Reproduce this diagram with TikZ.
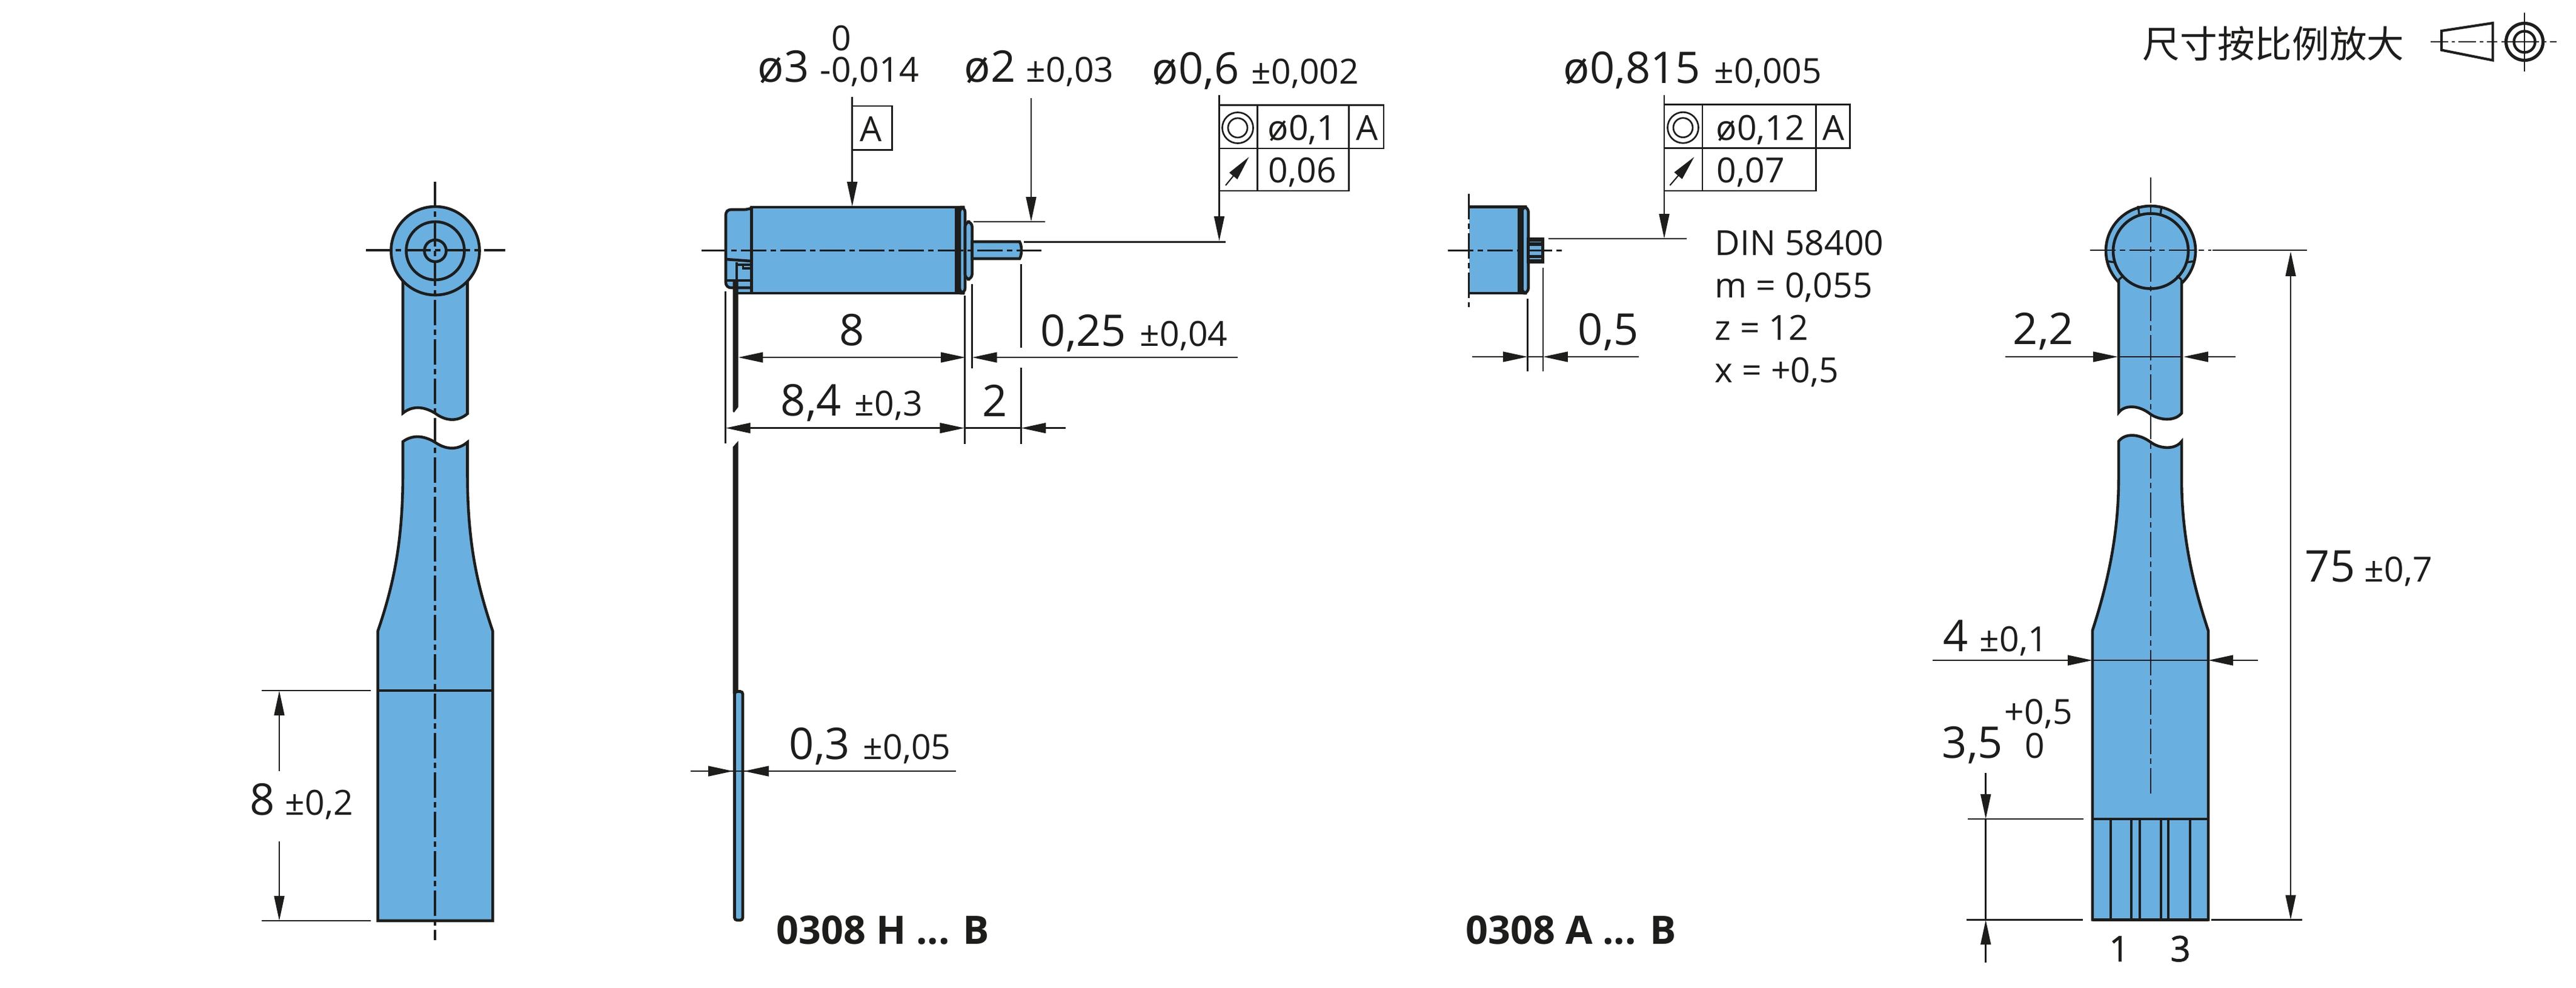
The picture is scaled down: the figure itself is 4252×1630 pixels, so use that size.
\documentclass[tikz,border=0pt]{standalone}
\usepackage{fontspec}
\setmainfont{Open Sans}
\newfontfamily\cjkfont{Noto Sans CJK SC}
\usetikzlibrary{arrows.meta}
\definecolor{ink}{HTML}{1D1D1B}
\definecolor{motor}{HTML}{69AFE0}
\tikzset{
  thickline/.style={draw=ink,line width=1.1pt,line join=miter},
  bodyfill/.style={thickline,fill=motor},
  thinline/.style={draw=ink,line width=0.65pt},
  axisline/.style={draw=ink,line width=0.65pt,dash pattern=on 10pt off 1.8pt on 2pt off 1.8pt},
  axisheavy/.style={draw=ink,line width=0.85pt,dash pattern=on 10pt off 1.8pt on 2pt off 1.8pt},
  dimarrow/.style={thinline,-{Triangle[length=9.8pt,width=4pt,ink]}},
  dimarrows/.style={thinline,{Triangle[length=9.8pt,width=4pt,ink]}-{Triangle[length=9.8pt,width=4pt,ink]}},
  lg/.style={text=ink,anchor=base west,inner sep=0pt,font=\fontsize{17.3}{20}\selectfont},
  sm/.style={text=ink,anchor=base west,inner sep=0pt,font=\fontsize{13.7}{16}\selectfont},
  bd/.style={text=ink,anchor=base west,inner sep=0pt,font=\fontsize{15.5}{18}\selectfont\bfseries},
  cj/.style={text=ink,anchor=base west,inner sep=0pt,font=\fontsize{14.8}{18}\selectfont\cjkfont},
}
\begin{document}
\begin{tikzpicture}[x=0.24pt,y=-0.24pt]
\useasboundingbox (0,0) rectangle (4252,1630);
%% ---------- left view ----------
\path[bodyfill] (665,440) -- (665,682) .. controls (680,670) and (698,670) .. (718,682) .. controls (735,695) and (755,697) .. (771.5,683) -- (771.5,440);
\path[bodyfill] (665,729) .. controls (680,718) and (698,718) .. (718,730) .. controls (735,742) and (755,744) .. (771.5,730)
  -- (771.5,780) .. controls (771.5,900) and (789,970) .. (813.4,1042) -- (813.4,1520) -- (623.6,1520) -- (623.6,1042)
  .. controls (648,970) and (665,900) .. (665,780) -- cycle;
\draw[thinline,line width=0.8pt] (623.6,1140) -- (813.4,1140);
\path[bodyfill] (718.5,414) circle (73);
\draw[thickline] (718.5,414) circle (48);
\draw[thickline] (718.5,414) circle (18);
\draw[axisheavy] (604,413) -- (834,413);
\draw[axisheavy] (718,300) -- (718,1552);
\draw[thinline] (432,1140) -- (612,1140);
\draw[thinline] (432,1520) -- (612,1520);
\coordinate (a8t) at (461,1140); \coordinate (a8b) at (461,1520);
\draw[dimarrow] (461,1273) -- (a8t);
\draw[dimarrow] (461,1389) -- (a8b);
\node[lg] (t8) at (412,1345) {8};
\node[sm] (t8tol) at (470,1345) {±0,2};
%% ---------- motor with flex ----------
\fill[motor] (1198,346) -- (1230,346) -- (1240,344) -- (1240,482) -- (1216,482) -- (1216,475) -- (1203,475) -- (1198,470) -- cycle;
\draw[thickline,rounded corners=2pt] (1230,346) -- (1198,346) -- (1198,475) -- (1240,475);
\draw[thickline] (1230,346) -- (1240,344);
\draw[thickline] (1198,428) -- (1240,431);
\draw[thickline,line width=0.9pt] (1216,437) -- (1226.5,437) -- (1226.5,443) -- (1240,443);
\draw[thickline,line width=0.9pt] (1226.5,437) -- (1240,437);
\draw[thickline] (1198,463) -- (1240,463);
\draw[thickline] (1216,433) -- (1216,484) -- (1240,484);
\path[bodyfill] (1240.7,342) rectangle (1578,484);
\path[bodyfill,rounded corners=2pt] (1584,342) -- (1593,342) -- (1593,484) -- (1584,484) -- cycle;
\fill[ink] (1575.5,340) rectangle (1584.5,486);
\path[bodyfill,rounded corners=2pt] (1593,366) -- (1604.6,366) -- (1604.6,461) -- (1593,461) -- cycle;
\path[bodyfill] (1604.6,399) -- (1683,399) .. controls (1687,405) and (1687,421) .. (1683,427) -- (1604.6,427) -- cycle;
\draw[axisline] (1158,413.3) -- (1719,413.3);
\fill[ink] (1209.5,462) -- (1218.5,462) -- (1218.5,672) -- (1211.5,681) -- (1209.5,679) -- cycle;
\fill[ink] (1209.5,738) -- (1218.5,728) -- (1218.5,1145) -- (1209.5,1145) -- cycle;
\path[bodyfill,line width=1.15pt,rounded corners=1pt] (1212.5,1141.5) rectangle (1226,1519);
\draw[thinline] (1170,1273) -- (1578,1273);
\draw[dimarrow] (1140,1273) -- (1210,1273);
\draw[dimarrow] (1307.6,1273) -- (1228,1273);
\node[lg] (t03) at (1302,1253) {0,3};
\node[sm] (t03tol) at (1424,1253) {±0,05};
\node[bd] (t0308h) at (1281,1558.7) {0308 H ... B};
% dimensions top
\node[lg] (td3) at (1250,135) {ø3};
\node[sm] (td3u) at (1372,83) {0};
\node[sm] (td3l) at (1353,135) {-0,014};
\node[lg] (td2) at (1591,135) {ø2};
\node[sm] (td2t) at (1693,135) {±0,03};
\node[lg] (td06) at (1901,138) {ø0,6};
\node[sm] (td06t) at (2065,138) {±0,002};
\draw[dimarrow] (1406.7,160) -- (1406.7,341);
\draw[thinline] (1406.7,175) rectangle (1472.7,247.5);
\node[sm] (tboxA) at (1419,233.7) {A};
\draw[dimarrow] (1702,162) -- (1702,366);
\draw[dimarrow] (2012.5,157) -- (2012.5,398);
\draw[thinline] (1607,366) -- (1725,366);
\draw[thinline] (1690,399.5) -- (2023,399.5);
\draw[thinline] (2012.5,173.5) -- (2284,173.5) -- (2284,245) -- (2012.5,245);
\draw[thinline] (2012.5,315) -- (2226.7,315) -- (2226.7,173.5);
\draw[thinline] (2075.5,173.5) -- (2075.5,315);
\draw[thinline] (2043,211) circle (25.5);
\draw[thinline] (2043,211) circle (16);
\draw[dimarrow,line width=0.5pt] (2023,306) -- (2061.6,259);
\node[sm] (t01) at (2092,231) {ø0,1};
\node[sm] (tA1) at (2238,231) {A};
\node[sm] (t006) at (2093,301) {0,06};
% dim 8 etc
\draw[thinline] (1592.2,488) -- (1592.2,733);
\draw[thinline] (1604.7,469) -- (1604.7,608);
\draw[thinline] (1685.4,436) -- (1685.4,574);
\draw[thinline] (1685.4,607) -- (1685.4,733);
\draw[thinline] (1197.7,481) -- (1197.7,732);
\draw[dimarrows] (1218.5,590) -- (1593.7,590);
\draw[dimarrow] (2043,590) -- (1604.7,590);
\node[lg] (t8a) at (1385,570) {8};
\node[lg] (t025) at (1717,571.4) {0,25};
\node[sm] (t025t) at (1881,571.4) {±0,04};
\draw[dimarrows] (1197.7,706.6) -- (1592.2,706.6);
\draw[thinline] (1592.2,706.6) -- (1685.4,706.6);
\draw[dimarrow] (1758.7,706.6) -- (1685.4,706.6);
\node[lg] (t84) at (1288,686) {8,4};
\node[sm] (t84t) at (1410,686) {±0,3};
\node[lg] (t2a) at (1621,687) {2};
\node[bd] (t0308a) at (2419,1558.7) {0308 A ... B};
%% ---------- cover with pinion ----------
\fill[motor] (2424.5,341.5) rectangle (2510,484);
\draw[thickline] (2424.5,341.5) -- (2507,341.5);
\draw[thickline] (2424.5,484) -- (2507,484);
\path[bodyfill,rounded corners=2pt] (2512,341.5) -- (2522.7,341.5) -- (2522.7,484) -- (2512,484) -- cycle;
\fill[ink] (2505,339) rectangle (2515,486);
\fill[ink] (2520,392) rectangle (2549,435);
\fill[motor] (2525,398.8) rectangle (2544,400.2);
\fill[motor] (2525,406) rectangle (2544,412);
\fill[motor] (2525,415) rectangle (2544,421);
\fill[motor] (2525,426.3) rectangle (2544,427.7);
\draw[axisline] (2390,413.4) -- (2578,413.4);
\draw[axisline] (2424.5,320) -- (2424.5,507);
\draw[dimarrow] (2747,157) -- (2747,394);
\draw[thinline] (2555.5,394) -- (2784,394);
\draw[thinline] (2747,172.8) -- (3053.7,172.8) -- (3053.7,244.6) -- (2747,244.6);
\draw[thinline] (2747,315) -- (2997.5,315) -- (2997.5,172.8);
\draw[thinline] (2810,172.8) -- (2810,315);
\draw[thinline] (2778,210.7) circle (25.5);
\draw[thinline] (2778,210.7) circle (16);
\draw[dimarrow,line width=0.5pt] (2756.4,306) -- (2796.5,259);
\node[lg] (td0815) at (2580,137.5) {ø0,815};
\node[sm] (td0815t) at (2829,137.5) {±0,005};
\node[sm] (t012) at (2832,231) {ø0,12};
\node[sm] (tA2) at (3008,231) {A};
\node[sm] (t007) at (2833,301) {0,07};
\node[sm] (tdin) at (2830,421) {DIN 58400};
\node[sm] (tm) at (2830,491) {m = 0,055};
\node[sm] (tz) at (2830,561.6) {z = 12};
\node[sm] (tx) at (2830,631.7) {x = +0,5};
\draw[thinline] (2521.6,493) -- (2521.6,612.5);
\draw[thinline] (2547,442) -- (2547,612.5);
\draw[dimarrow] (2430,589) -- (2521.6,589);
\draw[dimarrow] (2705,589) -- (2547,589);
\draw[thinline] (2521.6,589) -- (2547,589);
\node[lg] (t05) at (2604,569) {0,5};
%% ---------- scale note ----------
\node[cj] (tscale) at (3536,95) {尺寸按比例放大};
\draw[thickline,line width=1pt] (4030,51) -- (4114.6,38) -- (4114.6,99.5) -- (4030,82.6) -- cycle;
\draw[axisline,dash pattern=on 7pt off 1.4pt on 1.4pt off 1.4pt] (4011.5,69) -- (4121.6,69);
\draw[thickline,line width=1.25pt] (4167,69) circle (30.5);
\draw[thickline,line width=1.05pt] (4167,69) circle (17.5);
\draw[thinline] (4167,21) -- (4167,118);
\draw[axisline,dash pattern=on 15pt off 1.4pt on 1.4pt off 1.4pt] (4128.6,69) -- (4220,69);
%% ---------- right view ----------
\path[bodyfill] (3550,414) circle (74);
\path[bodyfill] (3497,462) -- (3497,681) .. controls (3507,668) and (3530,668) .. (3550,684) .. controls (3565,694) and (3590,696) .. (3601,682) -- (3601,462);
\path[bodyfill] (3497,728.6) .. controls (3507,715) and (3530,715) .. (3550,730) .. controls (3565,741) and (3590,743) .. (3601,728.6)
 -- (3601,790) .. controls (3601,880) and (3618,960) .. (3645,1041) -- (3645,1518.4) -- (3453.8,1518.4) -- (3453.8,1041)
 .. controls (3480,960) and (3497,880) .. (3497,790) -- cycle;
\path[bodyfill] (3550,414.5) circle (62);
\draw[thickline,line width=0.8pt] (3529,340) -- (3531,354);
\draw[thickline,line width=0.8pt] (3568,340) -- (3566,354);
\draw[thickline,line width=0.8pt] (3477,431) -- (3490,433);
\draw[thickline,line width=0.8pt] (3623,431) -- (3610,433);
\draw[thickline,line width=0.8pt] (3497,462) -- (3505,455);
\draw[thickline,line width=0.8pt] (3601,462) -- (3593,455);
\draw[axisline] (3550,293) -- (3550,1316);
\draw[axisline] (3450,413) -- (3650,413);
\draw[thinline] (3651.6,413) -- (3808,413);
\draw[thinline] (3649.5,1518.4) -- (3800,1518.4);
\draw[thinline] (3497,589) -- (3601,589);
\draw[dimarrow] (3310,589) -- (3496,589);
\draw[dimarrow] (3690,589) -- (3604,589);
\node[lg] (t22) at (3322,568) {2,2};
\draw[dimarrows] (3781,415) -- (3781,1518.4);
\node[lg] (t75) at (3804,960.4) {75};
\node[sm] (t75t) at (3902,960.4) {±0,7};
\draw[thinline] (3453.8,1090) -- (3645,1090);
\draw[dimarrow] (3190,1090) -- (3453.8,1090);
\draw[dimarrow] (3726.6,1090) -- (3645,1090);
\node[lg] (t4) at (3207,1075) {4};
\node[sm] (t4t) at (3267,1075) {±0,1};
\node[lg] (t35) at (3205,1251.6) {3,5};
\node[sm] (t35u) at (3308,1195.5) {+0,5};
\node[sm] (t35l) at (3342,1251.6) {0};
\draw[thickline] (3453.8,1352) -- (3645,1352);
\foreach \xc in {3484,3518,3532,3567.4,3579,3615}{\draw[thickline,line width=0.95pt] (\xc,1352) -- (\xc,1518.4);}
\draw[thickline] (3453.8,1518.4) -- (3645,1518.4);
\draw[thinline] (3248,1352) -- (3439,1352);
\draw[thinline] (3246,1518.4) -- (3437.6,1518.4);
\draw[dimarrow] (3277.7,1276.4) -- (3277.7,1352);
\draw[dimarrow] (3277.7,1589) -- (3277.7,1518.4);
\draw[thinline] (3277.7,1352) -- (3277.7,1518.4);
\node[sm,anchor=base] (t1) at (3498,1587) {\fontsize{14}{16}\selectfont\addfontfeature{FakeBold=1.2}1};
\node[sm,anchor=base] (t3) at (3599,1587) {\fontsize{14}{16}\selectfont\addfontfeature{FakeBold=1.2}3};
\end{tikzpicture}
\end{document}
